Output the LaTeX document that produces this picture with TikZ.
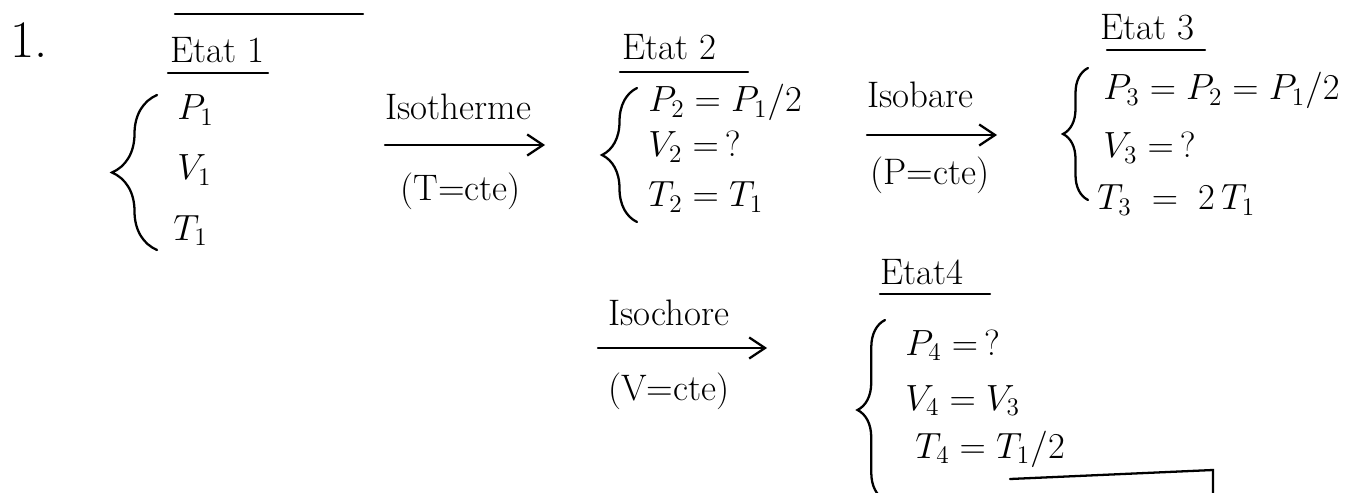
\documentclass[tikz,border=0pt]{standalone}
\usetikzlibrary{decorations.pathreplacing,arrows.meta}
\begin{document}
\begin{tikzpicture}[x=0.02cm,y=-0.02cm,
  ink/.style={line width=1.3pt, line cap=round},
  eq/.style={anchor=base west, inner sep=0pt, font=\fontsize{22}{26}\selectfont},
  head/.style={anchor=base west, inner sep=0pt, font=\fontsize{21}{25}\selectfont},
  proc/.style={anchor=base west, inner sep=0pt, font=\fontsize{21}{25}\selectfont},
  curly/.style={ink, decorate, decoration={brace, amplitude=#1}},
  flow/.style={ink, -{Straight Barb[length=9pt,width=12pt]}}]
\thickmuskip=5mu
\useasboundingbox (0,0) rectangle (1368,493);
\fill[white] (0,0) rectangle (1368,493);

\node[eq, font=\fontsize{30}{34}\selectfont] (num) at (10,58) {1.};
\draw[ink] (175,14) -- (363,14);

% State 1
\node[head] (e1) at (170,63) {Etat 1};
\draw[ink] (168,73) -- (268,73);
\node[eq] (p1) at (177,120) {$P_1$};
\node[eq] (v1) at (177,180) {$V_1$};
\node[eq] (t1) at (173,240) {$T_1$};
\draw[curly=0.9cm] (157,250) -- (157,95);

% Isotherme
\node[proc] (iso1) at (385,120) {Isotherme};
\coordinate (a1s) at (385,145);
\coordinate (a1e) at (545,145);
\draw[flow] (a1s) -- (a1e);
\node[proc] (c1) at (400,200) {(T=cte)};

% State 2
\node[head] (e2) at (622,60) {Etat 2};
\draw[ink] (620,72) -- (748,72);
\node[eq] (p2) at (648,112) {$P_2=P_1/2$};
\node[eq] (v2) at (648,157) {$V_2=\,?$};
\node[eq] (t2) at (648,207) {$T_2=T_1$};
\draw[curly=0.7cm] (637,222) -- (637,88);

% Isobare
\node[proc] (iso2) at (867,108) {Isobare};
\coordinate (a2s) at (867,135);
\coordinate (a2e) at (997,135);
\draw[flow] (a2s) -- (a2e);
\node[proc] (c2) at (870,185) {(P=cte)};

% State 3
\node[head] (e3) at (1100,40) {Etat 3};
\draw[ink] (1107,50) -- (1205,50);
\node[eq] (p3) at (1103,100) {$P_3=P_2=P_1/2$};
\node[eq] (v3) at (1103,158) {$V_3=\,?$};
\node[eq] (t3) at (1097,210) {$T_3\;=\;2\,T_1$};
\draw[curly=0.5cm] (1088,200) -- (1088,68);

% Isochore
\node[proc] (iso3) at (608,325) {Isochore};
\coordinate (a3s) at (598,348);
\coordinate (a3e) at (767,348);
\draw[flow] (a3s) -- (a3e);
\node[proc] (c3) at (608,400) {(V=cte)};

% State 4
\node[head] (e4) at (880,284) {Etat4};
\draw[ink] (880,294) -- (990,294);
\node[eq] (p4) at (905,355) {$P_4=\,?$};
\node[eq] (v4) at (905,410) {$V_4=V_3$};
\node[eq] (t4) at (915,458) {$T_4=T_1/2$};
\draw[curly=0.55cm] (885,500) -- (885,320);

% partial box at the bottom
\draw[ink] (1010,479) -- (1213,470) -- (1213,500);
\end{tikzpicture}
\end{document}
